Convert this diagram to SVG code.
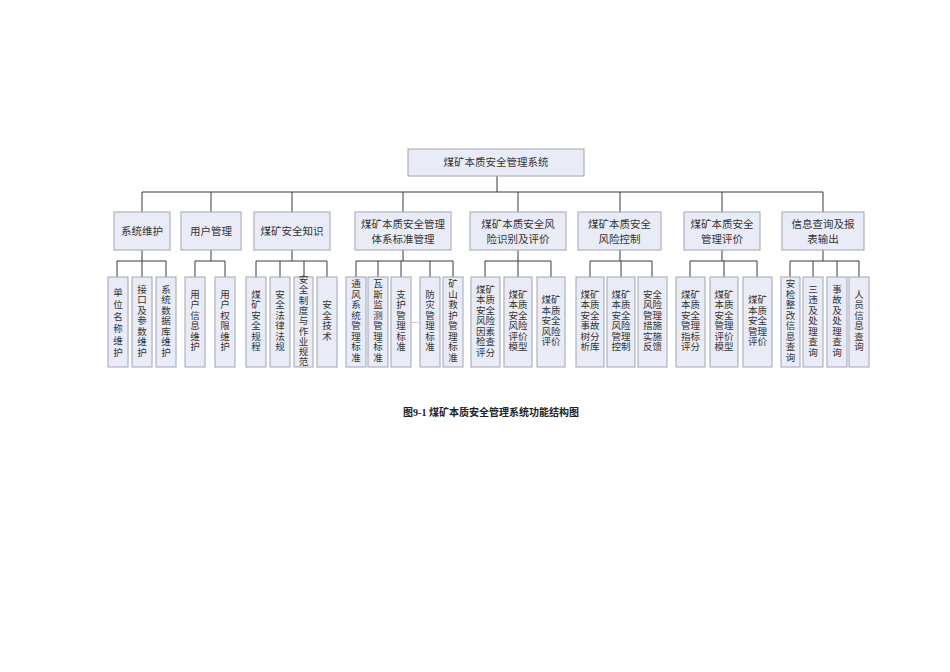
<svg xmlns="http://www.w3.org/2000/svg" width="950" height="672" viewBox="0 0 950 672">
<style>
.bx{fill:#e9ecf6;stroke:#a2a5b4;stroke-width:1}
.t{font-family:"Liberation Serif","Noto Sans CJK SC",serif;fill:#333;text-anchor:middle;dominant-baseline:central}
.top{font-size:10.5px}
.l2{font-size:10.5px}
.lf{font-size:9.5px}
.cap{font-family:"Liberation Serif","Noto Sans CJK SC",serif;font-size:10px;font-weight:bold;fill:#222;text-anchor:middle;dominant-baseline:central}
.ln{fill:none;stroke:#3a3a3a;stroke-width:1}
</style>
<rect width="950" height="672" fill="#fff"/>
<g id="connectors" class="ln">
<path d="M497 176V192M142 192H823M142 192V212M211 192V212M292 192V212M403 192V212M518 192V212M620 192V212M722 192V212M823 192V212"/>
<path d="M142 250V261M117 261H166M117 261V277M142 261V277M166 261V277"/>
<path d="M211 250V261M195 261H225M195 261V277M225 261V277"/>
<path d="M292 250V261M256 261H327M256 261V277M280 261V277M304 261V277M327 261V277"/>
<path d="M403 250V261M356 261H453M356 261V277M378 261V277M401 261V277M430 261V277M453 261V277"/>
<path d="M518 250V261M485 261H551M485 261V277M518 261V277M551 261V277"/>
<path d="M620 250V261M590 261H652M590 261V277M621 261V277M652 261V277"/>
<path d="M722 250V261M690 261H757M690 261V277M724 261V277M757 261V277"/>
<path d="M823 250V261M790 261H859M790 261V277M813 261V277M837 261V277M859 261V277"/>
</g>
<g id="root"><rect class="bx" x="408" y="149" width="176" height="27"/><text class="t top" x="496" y="162.5">煤矿本质安全管理系统</text></g>
<g id="n-xtwh"><rect class="bx" x="114" y="212" width="56" height="38"/><text class="t l2" x="142" y="231">系统维护</text></g>
<g id="n-yhgl"><rect class="bx" x="181" y="212" width="60" height="38"/><text class="t l2" x="211" y="231">用户管理</text></g>
<g id="n-aqzs"><rect class="bx" x="254" y="212" width="76" height="38"/><text class="t l2" x="292" y="231">煤矿安全知识</text></g>
<g id="n-bzgl"><rect class="bx" x="355" y="212" width="96" height="38"/><text class="t l2" x="403" y="224">煤矿本质安全管理</text><text class="t l2" x="403" y="239">体系标准管理</text></g>
<g id="n-fxsb"><rect class="bx" x="470" y="212" width="96" height="38"/><text class="t l2" x="518" y="224">煤矿本质安全风</text><text class="t l2" x="518" y="239">险识别及评价</text></g>
<g id="n-fxkz"><rect class="bx" x="578" y="212" width="83" height="38"/><text class="t l2" x="619.5" y="224">煤矿本质安全</text><text class="t l2" x="619.5" y="239">风险控制</text></g>
<g id="n-glpj"><rect class="bx" x="684" y="212" width="76" height="38"/><text class="t l2" x="722" y="224">煤矿本质安全</text><text class="t l2" x="722" y="239">管理评价</text></g>
<g id="n-xxcx"><rect class="bx" x="782" y="212" width="82" height="38"/><text class="t l2" x="823" y="224">信息查询及报</text><text class="t l2" x="823" y="239">表输出</text></g>

<g id="lf1"><rect class="bx" x="108" y="277" width="20" height="90"/><text class="t lf" x="118" y="293"><tspan x="118">单</tspan><tspan x="118" dy="12">位</tspan><tspan x="118" dy="12">名</tspan><tspan x="118" dy="12">称</tspan><tspan x="118" dy="12">维</tspan><tspan x="118" dy="12">护</tspan></text></g>
<g id="lf2"><rect class="bx" x="132" y="277" width="20" height="90"/><text class="t lf" x="142" y="289.5"><tspan x="142">接</tspan><tspan x="142" dy="10.5">口</tspan><tspan x="142" dy="10.5">及</tspan><tspan x="142" dy="10.5">参</tspan><tspan x="142" dy="10.5">数</tspan><tspan x="142" dy="10.5">维</tspan><tspan x="142" dy="10.5">护</tspan></text></g>
<g id="lf3"><rect class="bx" x="156" y="277" width="20" height="90"/><text class="t lf" x="166" y="289.5"><tspan x="166">系</tspan><tspan x="166" dy="10.5">统</tspan><tspan x="166" dy="10.5">数</tspan><tspan x="166" dy="10.5">据</tspan><tspan x="166" dy="10.5">库</tspan><tspan x="166" dy="10.5">维</tspan><tspan x="166" dy="10.5">护</tspan></text></g>

<g id="lf4"><rect class="bx" x="185" y="277" width="20" height="90"/><text class="t lf" x="195" y="294.75"><tspan x="195">用</tspan><tspan x="195" dy="10.5">户</tspan><tspan x="195" dy="10.5">信</tspan><tspan x="195" dy="10.5">息</tspan><tspan x="195" dy="10.5">维</tspan><tspan x="195" dy="10.5">护</tspan></text></g>
<g id="lf5"><rect class="bx" x="215" y="277" width="20" height="90"/><text class="t lf" x="225" y="294.75"><tspan x="225">用</tspan><tspan x="225" dy="10.5">户</tspan><tspan x="225" dy="10.5">权</tspan><tspan x="225" dy="10.5">限</tspan><tspan x="225" dy="10.5">维</tspan><tspan x="225" dy="10.5">护</tspan></text></g>

<g id="lf6"><rect class="bx" x="246" y="277" width="20" height="90"/><text class="t lf" x="256" y="294.75"><tspan x="256">煤</tspan><tspan x="256" dy="10.5">矿</tspan><tspan x="256" dy="10.5">安</tspan><tspan x="256" dy="10.5">全</tspan><tspan x="256" dy="10.5">规</tspan><tspan x="256" dy="10.5">程</tspan></text></g>
<g id="lf7"><rect class="bx" x="270" y="277" width="20" height="90"/><text class="t lf" x="280" y="294.75"><tspan x="280">安</tspan><tspan x="280" dy="10.5">全</tspan><tspan x="280" dy="10.5">法</tspan><tspan x="280" dy="10.5">律</tspan><tspan x="280" dy="10.5">法</tspan><tspan x="280" dy="10.5">规</tspan></text></g>
<g id="lf8"><rect class="bx" x="294" y="277" width="19" height="90"/><text class="t lf" x="303.5" y="280"><tspan x="303.5">安</tspan><tspan x="303.5" dy="10.3">全</tspan><tspan x="303.5" dy="10.3">制</tspan><tspan x="303.5" dy="10.3">度</tspan><tspan x="303.5" dy="10.3">与</tspan><tspan x="303.5" dy="10.3">作</tspan><tspan x="303.5" dy="10.3">业</tspan><tspan x="303.5" dy="10.3">规</tspan><tspan x="303.5" dy="10.3">范</tspan></text></g>
<g id="lf9"><rect class="bx" x="317" y="277" width="20" height="90"/><text class="t lf" x="327" y="305.25"><tspan x="327">安</tspan><tspan x="327" dy="10.5">全</tspan><tspan x="327" dy="10.5">技</tspan><tspan x="327" dy="10.5">术</tspan></text></g>

<g id="lf10"><rect class="bx" x="346" y="277" width="20" height="90"/><text class="t lf" x="356" y="284.25"><tspan x="356">通</tspan><tspan x="356" dy="10.5">风</tspan><tspan x="356" dy="10.5">系</tspan><tspan x="356" dy="10.5">统</tspan><tspan x="356" dy="10.5">管</tspan><tspan x="356" dy="10.5">理</tspan><tspan x="356" dy="10.5">标</tspan><tspan x="356" dy="10.5">准</tspan></text></g>
<g id="lf11"><rect class="bx" x="368" y="277" width="20" height="90"/><text class="t lf" x="378" y="284.25"><tspan x="378">瓦</tspan><tspan x="378" dy="10.5">斯</tspan><tspan x="378" dy="10.5">监</tspan><tspan x="378" dy="10.5">测</tspan><tspan x="378" dy="10.5">管</tspan><tspan x="378" dy="10.5">理</tspan><tspan x="378" dy="10.5">标</tspan><tspan x="378" dy="10.5">准</tspan></text></g>
<g id="lf12"><rect class="bx" x="391" y="277" width="20" height="90"/><text class="t lf" x="401" y="294.75"><tspan x="401">支</tspan><tspan x="401" dy="10.5">护</tspan><tspan x="401" dy="10.5">管</tspan><tspan x="401" dy="10.5">理</tspan><tspan x="401" dy="10.5">标</tspan><tspan x="401" dy="10.5">准</tspan></text></g>
<text class="t lf" x="415" y="320" style="font-size:8px">…</text>
<g id="lf13"><rect class="bx" x="420" y="277" width="20" height="90"/><text class="t lf" x="430" y="294.75"><tspan x="430">防</tspan><tspan x="430" dy="10.5">灾</tspan><tspan x="430" dy="10.5">管</tspan><tspan x="430" dy="10.5">理</tspan><tspan x="430" dy="10.5">标</tspan><tspan x="430" dy="10.5">准</tspan></text></g>
<g id="lf14"><rect class="bx" x="443" y="277" width="20" height="90"/><text class="t lf" x="453" y="284.25"><tspan x="453">矿</tspan><tspan x="453" dy="10.5">山</tspan><tspan x="453" dy="10.5">救</tspan><tspan x="453" dy="10.5">护</tspan><tspan x="453" dy="10.5">管</tspan><tspan x="453" dy="10.5">理</tspan><tspan x="453" dy="10.5">标</tspan><tspan x="453" dy="10.5">准</tspan></text></g>

<g id="lf15"><rect class="bx" x="471" y="277" width="29" height="90"/><text class="t lf" x="485.5" y="289.5"><tspan x="485.5">煤矿</tspan><tspan x="485.5" dy="10.5">本质</tspan><tspan x="485.5" dy="10.5">安全</tspan><tspan x="485.5" dy="10.5">风险</tspan><tspan x="485.5" dy="10.5">因素</tspan><tspan x="485.5" dy="10.5">检查</tspan><tspan x="485.5" dy="10.5">评分</tspan></text></g>
<g id="lf16"><rect class="bx" x="504" y="277" width="28" height="90"/><text class="t lf" x="518" y="294.75"><tspan x="518">煤矿</tspan><tspan x="518" dy="10.5">本质</tspan><tspan x="518" dy="10.5">安全</tspan><tspan x="518" dy="10.5">风险</tspan><tspan x="518" dy="10.5">评价</tspan><tspan x="518" dy="10.5">模型</tspan></text></g>
<g id="lf17"><rect class="bx" x="537" y="277" width="28" height="90"/><text class="t lf" x="551" y="300"><tspan x="551">煤矿</tspan><tspan x="551" dy="10.5">本质</tspan><tspan x="551" dy="10.5">安全</tspan><tspan x="551" dy="10.5">风险</tspan><tspan x="551" dy="10.5">评价</tspan></text></g>

<g id="lf18"><rect class="bx" x="576" y="277" width="28" height="90"/><text class="t lf" x="590" y="294.75"><tspan x="590">煤矿</tspan><tspan x="590" dy="10.5">本质</tspan><tspan x="590" dy="10.5">安全</tspan><tspan x="590" dy="10.5">事故</tspan><tspan x="590" dy="10.5">树分</tspan><tspan x="590" dy="10.5">析库</tspan></text></g>
<g id="lf19"><rect class="bx" x="607" y="277" width="28" height="90"/><text class="t lf" x="621" y="294.75"><tspan x="621">煤矿</tspan><tspan x="621" dy="10.5">本质</tspan><tspan x="621" dy="10.5">安全</tspan><tspan x="621" dy="10.5">风险</tspan><tspan x="621" dy="10.5">管理</tspan><tspan x="621" dy="10.5">控制</tspan></text></g>
<g id="lf20"><rect class="bx" x="638" y="277" width="29" height="90"/><text class="t lf" x="652.5" y="294.75"><tspan x="652.5">安全</tspan><tspan x="652.5" dy="10.5">风险</tspan><tspan x="652.5" dy="10.5">管理</tspan><tspan x="652.5" dy="10.5">措施</tspan><tspan x="652.5" dy="10.5">实施</tspan><tspan x="652.5" dy="10.5">反馈</tspan></text></g>

<g id="lf21"><rect class="bx" x="676" y="277" width="29" height="90"/><text class="t lf" x="690.5" y="294.75"><tspan x="690.5">煤矿</tspan><tspan x="690.5" dy="10.5">本质</tspan><tspan x="690.5" dy="10.5">安全</tspan><tspan x="690.5" dy="10.5">管理</tspan><tspan x="690.5" dy="10.5">指标</tspan><tspan x="690.5" dy="10.5">评分</tspan></text></g>
<g id="lf22"><rect class="bx" x="710" y="277" width="28" height="90"/><text class="t lf" x="724" y="294.75"><tspan x="724">煤矿</tspan><tspan x="724" dy="10.5">本质</tspan><tspan x="724" dy="10.5">安全</tspan><tspan x="724" dy="10.5">管理</tspan><tspan x="724" dy="10.5">评价</tspan><tspan x="724" dy="10.5">模型</tspan></text></g>
<g id="lf23"><rect class="bx" x="743" y="277" width="29" height="90"/><text class="t lf" x="757.5" y="300"><tspan x="757.5">煤矿</tspan><tspan x="757.5" dy="10.5">本质</tspan><tspan x="757.5" dy="10.5">安全</tspan><tspan x="757.5" dy="10.5">管理</tspan><tspan x="757.5" dy="10.5">评价</tspan></text></g>

<g id="lf24"><rect class="bx" x="781" y="277" width="19" height="90"/><text class="t lf" x="790.5" y="284.25"><tspan x="790.5">安</tspan><tspan x="790.5" dy="10.5">检</tspan><tspan x="790.5" dy="10.5">整</tspan><tspan x="790.5" dy="10.5">改</tspan><tspan x="790.5" dy="10.5">信</tspan><tspan x="790.5" dy="10.5">息</tspan><tspan x="790.5" dy="10.5">查</tspan><tspan x="790.5" dy="10.5">询</tspan></text></g>
<g id="lf25"><rect class="bx" x="803" y="277" width="20" height="90"/><text class="t lf" x="813" y="289.5"><tspan x="813">三</tspan><tspan x="813" dy="10.5">违</tspan><tspan x="813" dy="10.5">及</tspan><tspan x="813" dy="10.5">处</tspan><tspan x="813" dy="10.5">理</tspan><tspan x="813" dy="10.5">查</tspan><tspan x="813" dy="10.5">询</tspan></text></g>
<g id="lf26"><rect class="bx" x="827" y="277" width="20" height="90"/><text class="t lf" x="837" y="289.5"><tspan x="837">事</tspan><tspan x="837" dy="10.5">故</tspan><tspan x="837" dy="10.5">及</tspan><tspan x="837" dy="10.5">处</tspan><tspan x="837" dy="10.5">理</tspan><tspan x="837" dy="10.5">查</tspan><tspan x="837" dy="10.5">询</tspan></text></g>
<g id="lf27"><rect class="bx" x="849" y="277" width="20" height="90"/><text class="t lf" x="859" y="294.75"><tspan x="859">人</tspan><tspan x="859" dy="10.5">员</tspan><tspan x="859" dy="10.5">信</tspan><tspan x="859" dy="10.5">息</tspan><tspan x="859" dy="10.5">查</tspan><tspan x="859" dy="10.5">询</tspan></text></g>

<text class="cap" x="491" y="412">图9-1  煤矿本质安全管理系统功能结构图</text>
</svg>
